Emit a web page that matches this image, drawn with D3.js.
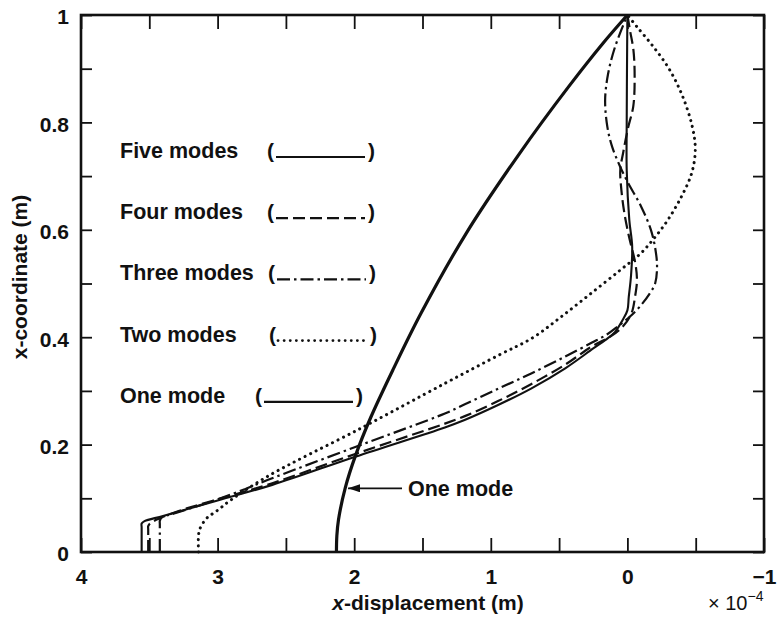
<!DOCTYPE html>
<html><head><meta charset="utf-8">
<script src="https://cdn.jsdelivr.net/npm/d3@7"></script>
<style>
body{margin:0;background:#fff;}
svg text{font-family:"Liberation Sans",Arial,Helvetica,sans-serif;font-weight:bold;fill:#111;}
</style></head><body>
<svg id="chart" width="782" height="620"></svg>
<script>
// ---------- data (x-displacement ×1e-4 m, x-coordinate m) ----------
const xTickValues = [4,3.5,3,2.5,2,1.5,1,0.5,0,-0.5,-1];
const xLabelValues = [4,3,2,1,0,-1];
const xTickLabels = ["4","3","2","1","0","\u22121"];
const yTickValues = [0,0.1,0.2,0.3,0.4,0.5,0.6,0.7,0.8,0.9,1];
const yLabelValues = [0,0.2,0.4,0.6,0.8,1];
const yTickLabels = ["0","0.2","0.4","0.6","0.8","1"];

const legendNames = ["Five modes","Four modes","Three modes","Two modes","One mode"];

const fiveModes = [[3.556,0],[3.556,0.046],[3.556,0.053],[3.535,0.0575],[3.4,0.067],[3.0,0.096],[2.6,0.125],[1.987,0.178],[1.336,0.232],[1.192,0.2458],[0.947,0.2737],[0.702,0.3048],[0.455,0.342],[0.25,0.379],[0.16,0.395],[0.09,0.41],[0.035,0.432],[0.0,0.45],[-0.01,0.475],[-0.026,0.513],[-0.035,0.569],[-0.014,0.618],[0.005,0.711],[0.005,0.8],[0.003,0.9],[0,1]];
const fourModes = [[3.508,0],[3.508,0.042],[3.508,0.048],[3.49,0.054],[3.3,0.075],[3.0,0.098],[2.6,0.128],[1.987,0.183],[1.336,0.239],[1.19,0.253],[0.947,0.281],[0.702,0.313],[0.455,0.349],[0.259,0.383],[0.12,0.402],[0.033,0.42],[-0.03,0.4445],[-0.056,0.4754],[-0.07,0.5065],[-0.058,0.5376],[-0.012,0.587],[0.022,0.6307],[0.044,0.674],[0.052,0.711],[0.03,0.745],[-0.005,0.79],[-0.043,0.83],[-0.053,0.885],[-0.044,0.935],[-0.02,0.97],[0,1]];
const threeModes = [[3.423,0],[3.423,0.052],[3.423,0.058],[3.41,0.064],[3.3,0.073],[3.0,0.098],[2.8,0.117],[2.635,0.134],[1.987,0.196],[1.336,0.258],[1.19,0.275],[0.946,0.304],[0.70,0.333],[0.455,0.364],[0.259,0.39],[0.15,0.405],[0.07,0.42],[-0.017,0.438],[-0.091,0.457],[-0.165,0.482],[-0.203,0.5],[-0.217,0.531],[-0.206,0.562],[-0.172,0.60],[-0.101,0.643],[-0.006,0.687],[0.053,0.7175],[0.112,0.755],[0.147,0.792],[0.163,0.842],[0.141,0.891],[0.09,0.941],[0,1]];
const twoModes = [[3.14,0],[3.14,0.03],[3.13,0.043],[3.10,0.0565],[3.067,0.066],[3.026,0.073],[2.982,0.081],[2.945,0.089],[2.64,0.14],[1.97,0.228],[1.336,0.314],[0.939,0.367],[0.693,0.399],[0.495,0.436],[0.274,0.48],[0.052,0.525],[-0.097,0.556],[-0.195,0.584],[-0.295,0.618],[-0.395,0.6616],[-0.47,0.705],[-0.497,0.7486],[-0.475,0.792],[-0.405,0.848],[-0.31,0.8976],[-0.19,0.941],[-0.07,0.978],[0,1]];
const oneMode = [[2.13,0],[2.127,0.03],[2.115,0.06],[2.065,0.12],[1.99,0.18],[1.88,0.25],[1.715,0.34],[1.51,0.445],[1.18,0.5935],[0.79,0.742],[0.43,0.8666],[0.18,0.947],[0,1]];

const annotationText = "One mode";
const annotationTip = [2.045, 0.1186];
const annotationTail = [1.65, 0.1186];

// ---------- layout ----------
const W = 782, H = 620;
const m = {left:81, right:W-764, top:15, bottom:H-552};
const svg = d3.select("#chart");
const x = d3.scaleLinear().domain([4,-1]).range([m.left, W-m.right]);
const y = d3.scaleLinear().domain([0,1]).range([H-m.bottom, m.top]);

const series = [
  {data: fiveModes,  width:2.1, dash:null, cap:"butt"},
  {data: fourModes,  width:2.2, dash:"12,5", cap:"butt"},
  {data: threeModes, width:2.2, dash:"13,4,2.5,4", cap:"butt"},
  {data: twoModes,   width:3.0, dash:"0.1,6", cap:"round"},
  {data: oneMode,    width:3.2, dash:null, cap:"butt"}
];

// ticks (inward)
const gx = svg.append("g").attr("transform",`translate(0,${H-m.bottom})`)
  .call(d3.axisBottom(x).tickValues(xTickValues).tickSizeInner(-14).tickSizeOuter(0).tickPadding(17)
    .tickFormat(d => { const i = xLabelValues.indexOf(d); return i>=0 ? xTickLabels[i] : ""; }));
const gxt = svg.append("g").attr("transform",`translate(0,${m.top})`)
  .call(d3.axisTop(x).tickValues(xTickValues).tickSizeInner(-14).tickSizeOuter(0).tickFormat(""));
const gy = svg.append("g").attr("transform",`translate(${m.left},0)`)
  .call(d3.axisLeft(y).tickValues(yTickValues).tickSizeInner(-11).tickSizeOuter(0).tickPadding(12)
    .tickFormat(d => { const i = yLabelValues.findIndex(v => Math.abs(v-d)<1e-9); return i>=0 ? yTickLabels[i] : ""; }));
const gyr = svg.append("g").attr("transform",`translate(${W-m.right},0)`)
  .call(d3.axisRight(y).tickValues(yTickValues).tickSizeInner(-11).tickSizeOuter(0).tickFormat(""));
[gx,gxt,gy,gyr].forEach(g => {
  g.select(".domain").remove();
  g.selectAll(".tick line").attr("stroke","#111").attr("stroke-width",1.8);
  g.selectAll("text").attr("font-size",21).attr("fill","#111")
   .style("font-family",'"Liberation Sans",Arial,sans-serif').style("font-weight","bold");
});
gy.selectAll("text").attr("dy","0.42em");

// frame
svg.append("rect").attr("x",m.left).attr("y",m.top)
  .attr("width",W-m.left-m.right).attr("height",H-m.top-m.bottom)
  .attr("fill","none").attr("stroke","#111").attr("stroke-width",2.6);

// curves
const line = d3.line().x(d=>x(d[0])).y(d=>y(d[1])).curve(d3.curveCatmullRom.alpha(0.5));
series.forEach(s => {
  svg.append("path").datum(s.data).attr("d",line)
    .attr("fill","none").attr("stroke","#111").attr("stroke-width",s.width)
    .attr("stroke-linecap",s.cap).attr("stroke-linejoin","round")
    .attr("stroke-dasharray",s.dash);
});

// legend
const legX = 120, legY0 = 158, legDY = 61.2;
const parenX = [267,267,268,269,255];
legendNames.forEach((name,i) => {
  const by = legY0 + i*legDY;
  svg.append("text").attr("x",legX).attr("y",by).attr("font-size",21.5).text(name);
  const px = parenX[i];
  svg.append("text").attr("x",px).attr("y",by).attr("font-size",21).text("(");
  svg.append("text").attr("x",px+101).attr("y",by).attr("font-size",21).text(")");
  const s = series[i];
  svg.append("line").attr("x1",px+9).attr("x2",px+98).attr("y1",by-1).attr("y2",by-1)
    .attr("stroke","#111").attr("stroke-width",i===3?2.8:2.2)
    .attr("stroke-linecap",s.cap).attr("stroke-dasharray",s.dash);
});

// annotation arrow
svg.append("defs").append("marker").attr("id","ah").attr("viewBox","0 0 12 8")
  .attr("refX",12).attr("refY",4).attr("markerWidth",12).attr("markerHeight",8)
  .attr("markerUnits","userSpaceOnUse").attr("orient","auto")
  .append("path").attr("d","M0,0 L12,4 L0,8 Z").attr("fill","#111");
svg.append("line").attr("x1",x(annotationTail[0])).attr("y1",y(annotationTail[1]))
  .attr("x2",x(annotationTip[0])).attr("y2",y(annotationTip[1]))
  .attr("stroke","#111").attr("stroke-width",1.8).attr("marker-end","url(#ah)");
svg.append("text").attr("x",x(annotationTail[0])+6).attr("y",y(annotationTail[1])+8)
  .attr("font-size",21.5).text(annotationText);

// axis titles
const xt = svg.append("text").attr("x",428).attr("y",610).attr("text-anchor","middle").attr("font-size",21);
xt.append("tspan").attr("font-style","italic").text("x");
xt.append("tspan").text("-displacement (m)");
const ex = svg.append("text").attr("x",708).attr("y",610).attr("font-size",20).style("font-weight","normal");
ex.append("tspan").text("\u00d7 10");
ex.append("tspan").attr("dy",-9).attr("font-size",14).text("\u22124");
svg.append("text").attr("transform","translate(27,277) rotate(-90)")
  .attr("text-anchor","middle").attr("font-size",21).text("x-coordinate (m)");
</script>
</body></html>
